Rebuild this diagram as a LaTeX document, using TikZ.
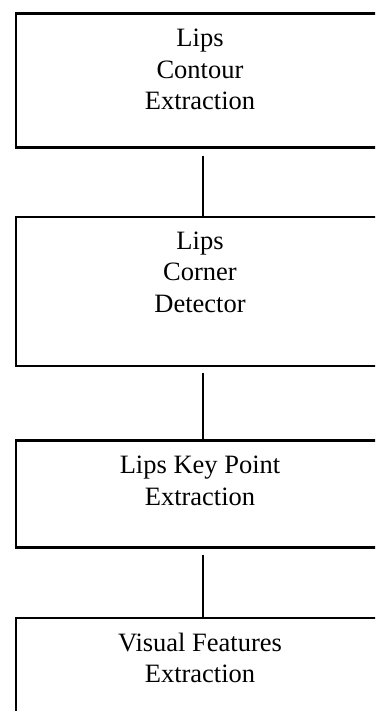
\documentclass[tikz,border=0pt]{standalone}
\usepackage{fontspec}
\setmainfont{Liberation Serif}
\usepackage{tikz}
\usetikzlibrary{positioning, calc}
\newcommand{\stagefont}{\fontsize{26.5}{31.5}\selectfont}
\tikzset{
  stage/.style={draw, line width=2.6pt, minimum width=368pt, minimum height=#1, inner sep=0pt, anchor=north},
  stagetext/.style={anchor=north, align=center, inner sep=0pt, font=\stagefont},
  link/.style={line width=2.6pt}
}

\begin{document}
\begin{tikzpicture}[x=1pt,y=-1pt]
   \useasboundingbox (0,0) rectangle (375,711);
   \clip (0,0) rectangle (375,711);
   \node[stage=134pt] (b1) at (200,12) {};
   \node[stage=149pt, below=67pt of b1] (b2) {};
   \node[stage=107pt, below=72pt of b2] (b3) {};
   \node[stage=140pt, below=68pt of b3] (b4) {};
   \node[stagetext, below=17pt of b1.north] (t1) {Lips\\Contour\\Extraction};
   \node[stagetext, below=16pt of b2.north] (t2) {Lips\\Corner\\Detector};
   \node[stagetext, below=17pt of b3.north] (t3) {Lips Key Point\\Extraction};
   \node[stagetext, below=16pt of b4.north] (t4) {Visual Features\\Extraction};
   \draw[link] ([xshift=3pt,yshift=-7pt]b1.south) -- ([xshift=3pt]b2.north);
   \draw[link] ([xshift=3pt,yshift=-6pt]b2.south) -- ([xshift=3pt]b3.north);
   \draw[link] ([xshift=3pt,yshift=-6pt]b3.south) -- ([xshift=3pt]b4.north);
\end{tikzpicture}
\end{document}
